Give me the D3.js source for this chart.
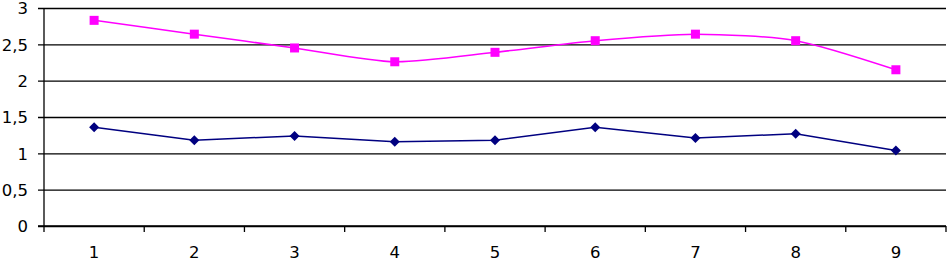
<!DOCTYPE html>
<html>
<head>
<meta charset="utf-8">
<script src="https://cdn.jsdelivr.net/npm/d3@7"></script>
<style>
  body { margin: 0; background: #fff; }
  text { font-family: "DejaVu Sans", sans-serif; font-size: 16.5px; fill: #000; }
</style>
</head>
<body>
<div id="chart"></div>
<script>
// data
const categories = [1, 2, 3, 4, 5, 6, 7, 8, 9];
const pinkValues = [2.83, 2.64, 2.45, 2.26, 2.39, 2.55, 2.64, 2.55, 2.15];
const navyValues = [1.36, 1.18, 1.24, 1.16, 1.18, 1.36, 1.21, 1.27, 1.04];
const yTicks = [0, 0.5, 1, 1.5, 2, 2.5, 3];

const W = 947, H = 262;
const margin = {top: 8, right: 1, bottom: 36, left: 44};

const svg = d3.select("#chart").append("svg")
    .attr("width", W)
    .attr("height", H);

const x = d3.scaleBand()
    .domain(categories)
    .range([margin.left, W - margin.right]);

const y = d3.scaleLinear()
    .domain([0, 3])
    .range([H - margin.bottom, margin.top]);

// gridlines + y ticks
svg.append("g")
    .attr("transform", "translate(" + margin.left + ",0)")
    .call(d3.axisLeft(y).tickValues(yTicks)
      .tickSize(-(W - margin.left - margin.right))
      .tickSizeOuter(0)
      .tickFormat(d => String(d).replace(".", ",")))
    .call(g => g.select(".domain").remove())
    .call(g => g.selectAll(".tick line").attr("x1", -6)
      .attr("stroke", "#000").attr("stroke-width", 1.3))
    .call(g => g.selectAll(".tick text").attr("x", -16).attr("dy", "0.36em")
      .style("font-size", "16.5px").style("font-family", "DejaVu Sans"));

// y axis line
svg.append("line")
    .attr("x1", margin.left).attr("x2", margin.left)
    .attr("y1", y(3)).attr("y2", y(0))
    .attr("stroke", "#000").attr("stroke-width", 1.3);

// x axis with ticks between categories
const xAxis = svg.append("g")
    .attr("transform", "translate(0," + y(0) + ")");
xAxis.append("line")
    .attr("x1", margin.left - 6).attr("x2", W - margin.right)
    .attr("stroke", "#000").attr("stroke-width", 1.3);
xAxis.selectAll(".sep")
    .data(categories)
    .enter().append("line")
    .attr("class", "sep")
    .attr("x1", d => x(d) + x.bandwidth()).attr("x2", d => x(d) + x.bandwidth())
    .attr("y1", 0).attr("y2", 6)
    .attr("stroke", "#000").attr("stroke-width", 1.3);
xAxis.append("line")
    .attr("x1", margin.left).attr("x2", margin.left)
    .attr("y1", 0).attr("y2", 6)
    .attr("stroke", "#000").attr("stroke-width", 1.3);
xAxis.selectAll(".lbl")
    .data(categories)
    .enter().append("text")
    .attr("class", "lbl")
    .attr("x", d => x(d) + x.bandwidth() / 2)
    .attr("y", 32)
    .attr("text-anchor", "middle")
    .text(d => d);

const cx = d => x(d) + x.bandwidth() / 2;

// pink series, smoothed
const pink = categories.map((c, i) => [cx(c), y(pinkValues[i])]);
svg.append("path")
    .attr("d", d3.line().curve(d3.curveCardinal.tension(0.25))(pink))
    .attr("fill", "none")
    .attr("stroke", "#ff00ff")
    .attr("stroke-width", 1.5);
svg.selectAll(".sq")
    .data(pink)
    .enter().append("rect")
    .attr("x", d => d[0] - 4.5).attr("y", d => d[1] - 4.5)
    .attr("width", 9).attr("height", 9)
    .attr("fill", "#ff00ff");

// navy series
const navy = categories.map((c, i) => [cx(c), y(navyValues[i])]);
svg.append("path")
    .attr("d", d3.line()(navy))
    .attr("fill", "none")
    .attr("stroke", "#000080")
    .attr("stroke-width", 1.5);
svg.selectAll(".dm")
    .data(navy)
    .enter().append("path")
    .attr("transform", d => "translate(" + d[0] + "," + d[1] + ")")
    .attr("d", "M0,-5L5,0L0,5L-5,0Z")
    .attr("fill", "#000080");
</script>
</body>
</html>
